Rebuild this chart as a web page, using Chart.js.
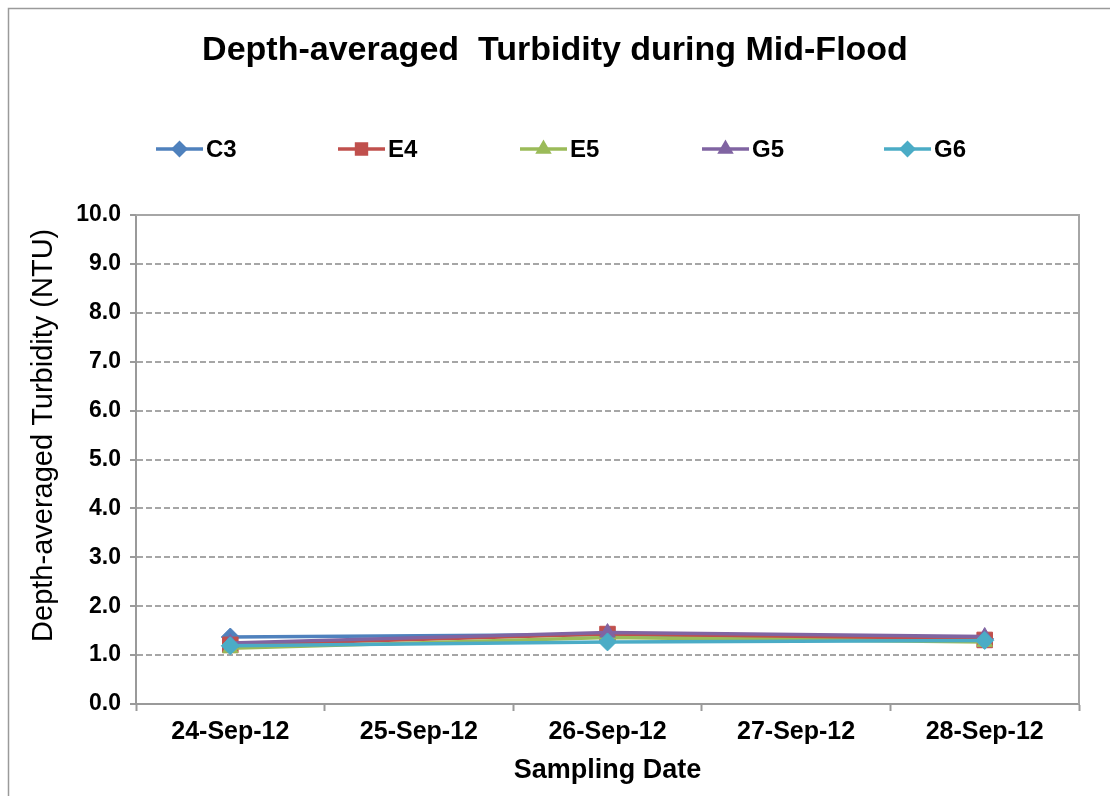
<!DOCTYPE html>
<html>
<head>
<meta charset="utf-8">
<script src="https://cdn.jsdelivr.net/npm/chart.js@4.4.1/dist/chart.umd.min.js"></script>
<style>
  html, body { margin: 0; padding: 0; background: #ffffff; }
  #wrap { width: 1110px; height: 796px; }
</style>
</head>
<body>
<div id="wrap"><canvas id="c" width="1110" height="796"></canvas></div>
<script>
// ---- data ----
const categories = ['24-Sep-12', '25-Sep-12', '26-Sep-12', '27-Sep-12', '28-Sep-12'];
const seriesNames = ['C3', 'E4', 'E5', 'G5', 'G6'];
const c3 = [1.37, null, 1.42, null, 1.33];
const e4 = [1.21, null, 1.43, null, 1.31];
const e5 = [1.14, null, 1.36, null, 1.27];
const g5 = [1.25, null, 1.46, null, 1.38];
const g6 = [1.19, null, 1.27, null, 1.30];
const yTicks = [0, 1, 2, 3, 4, 5, 6, 7, 8, 9, 10];

const chartTitle = 'Depth-averaged  Turbidity during Mid-Flood';
const xTitle = 'Sampling Date';
const yTitle = 'Depth-averaged Turbidity (NTU)';

// ---- styles ----
const FONT = "'Liberation Sans', Arial, sans-serif";
const colors = ['#4F81BD', '#C0504D', '#9BBB59', '#8064A2', '#4BACC6'];
const styles = ['rectRot', 'rect', 'triangle', 'triangle', 'rectRot'];
const radii = [9, 11, 9, 9, 9];
const values = [c3, e4, e5, g5, g6];

const datasets = seriesNames.map((n, i) => ({
  label: n,
  data: values[i],
  borderColor: colors[i],
  backgroundColor: colors[i],
  pointBackgroundColor: colors[i],
  pointBorderColor: colors[i],
  pointBorderWidth: 1,
  pointStyle: styles[i],
  pointRadius: radii[i],
  pointHoverRadius: radii[i],
  borderWidth: 3.5,
  spanGaps: true,
  tension: 0,
  order: seriesNames.length - i
}));

const frame = {
  id: 'frame',
  beforeDraw(chart) {
    const ctx = chart.ctx;
    ctx.save();
    ctx.fillStyle = '#ffffff';
    ctx.fillRect(0, 0, chart.width, chart.height);
    ctx.strokeStyle = '#9a9a9a';
    ctx.lineWidth = 1.5;
    ctx.beginPath();
    ctx.moveTo(8.5, chart.height);
    ctx.lineTo(8.5, 8.5);
    ctx.lineTo(chart.width, 8.5);
    ctx.stroke();
    ctx.restore();
  },
  beforeDatasetsDraw(chart) {
    const a = chart.chartArea;
    const ctx = chart.ctx;
    ctx.save();
    ctx.strokeStyle = '#a6a6a6';
    ctx.lineWidth = 2;
    ctx.beginPath();
    ctx.moveTo(a.left, a.top);
    ctx.lineTo(a.right, a.top);
    ctx.lineTo(a.right, a.bottom);
    ctx.stroke();
    ctx.restore();
  }
};

const lineLegend = {
  id: 'lineLegend',
  afterDraw(chart) {
    const ctx = chart.ctx;
    const y = 149;
    const step = 182;
    const lineLen = 47;
    const start = 156;
    ctx.save();
    ctx.font = 'bold 24px ' + FONT;
    ctx.textBaseline = 'middle';
    ctx.textAlign = 'left';
    chart.data.datasets.forEach((ds, i) => {
      const x0 = start + i * step;
      ctx.strokeStyle = ds.borderColor;
      ctx.lineWidth = 3.5;
      ctx.beginPath();
      ctx.moveTo(x0, y);
      ctx.lineTo(x0 + lineLen, y);
      ctx.stroke();
      Chart.helpers.drawPoint(ctx, {
        pointStyle: ds.pointStyle,
        radius: ds.pointStyle === 'rect' ? 7 : 6,
        borderWidth: 1,
        rotation: 0
      }, x0 + lineLen / 2, y);
      ctx.fillStyle = ds.borderColor;
      ctx.strokeStyle = ds.borderColor;
      ctx.fill();
      ctx.fillStyle = '#000';
      ctx.fillText(ds.label, x0 + lineLen + 3, y + 1);
    });
    ctx.restore();
  }
};

new Chart(document.getElementById('c'), {
  type: 'line',
  data: { labels: categories, datasets: datasets },
  plugins: [frame, lineLegend],
  options: {
    responsive: false,
    animation: false,
    devicePixelRatio: 1,
    layout: { padding: { left: 0, right: 0, top: 0, bottom: 0 } },
    plugins: {
      legend: { display: false },
      tooltip: { enabled: false },
      title: {
        display: true,
        text: chartTitle,
        color: '#000',
        font: { family: FONT, size: 34, weight: 'bold' },
        padding: { top: 30, bottom: 144.2 }
      }
    },
    scales: {
      x: {
        type: 'category',
        offset: true,
        grid: { offset: true, drawOnChartArea: false, drawTicks: true, tickLength: 7, tickColor: '#9a9a9a', tickWidth: 2 },
        border: { color: '#9a9a9a', width: 2 },
        ticks: { color: '#000', font: { family: FONT, size: 25, weight: 'bold' }, padding: 6, maxRotation: 0, autoSkip: false },
        title: { display: true, text: xTitle, color: '#000', font: { family: FONT, size: 27, weight: 'bold' }, padding: { top: 0, bottom: 9 } },
        afterFit(s) { s.height = 92; }
      },
      y: {
        min: 0,
        max: 10,
        afterBuildTicks(s) { s.ticks = yTicks.map(v => ({ value: v })); },
        grid: { color: '#a6a6a6', lineWidth: 2, tickLength: 6, tickColor: '#9a9a9a', tickWidth: 2 },
        border: { color: '#9a9a9a', width: 2, dash: [6, 3] },
        ticks: { color: '#000', font: { family: FONT, size: 23, weight: 'bold' }, padding: 9, callback: v => Number(v).toFixed(1) },
        title: { display: true, text: '      ' + yTitle, color: '#000', font: { family: FONT, size: 29, weight: 'normal' }, padding: { top: 27 } },
        afterFit(s) { s.width = 136; }
      },
      yPad: {
        position: 'right',
        display: true,
        grid: { display: false, drawTicks: false },
        border: { display: false },
        ticks: { display: false },
        afterFit(s) { s.width = 31; }
      }
    }
  }
});
</script>
</body>
</html>
